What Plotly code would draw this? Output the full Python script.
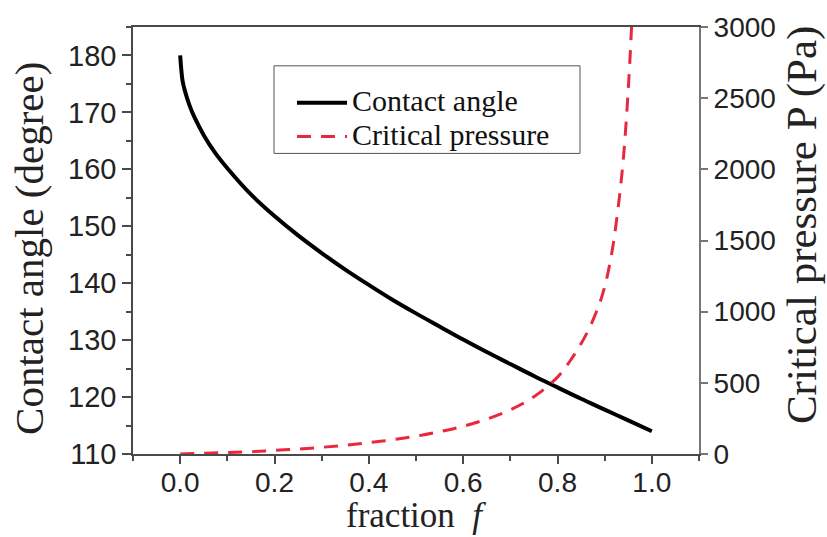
import plotly.graph_objects as go

# Contact angle vs fraction f
f_angle = [0, 0.005, 0.01, 0.02, 0.03, 0.05, 0.075, 0.1, 0.15, 0.2, 0.25, 0.3, 0.35,
           0.4, 0.45, 0.5, 0.55, 0.6, 0.65, 0.7, 0.75, 0.8, 0.85, 0.9, 0.95, 1.0]
angle = [180, 175.6, 173.8, 171.2, 169.2, 166.0, 162.8, 160.2, 155.6, 151.8, 148.4, 145.3, 142.4,
         139.7, 137.1, 134.7, 132.4, 130.1, 127.9, 125.8, 123.7, 121.7, 119.7, 117.8, 115.9, 114.0]

# Critical pressure vs fraction f
f_press = [0, 0.05, 0.1, 0.15, 0.2, 0.25, 0.3, 0.35, 0.4, 0.45, 0.5, 0.55, 0.6, 0.65,
           0.7, 0.75, 0.8, 0.83, 0.86, 0.885, 0.9, 0.915, 0.93, 0.94, 0.95, 0.957]
pressure = [0, 5, 10, 16, 26, 35, 47, 62, 80, 100, 125, 157, 195, 245,
            310, 402, 540, 670, 835, 1020, 1175, 1410, 1770, 2090, 2560, 3000]

series_names = ["Contact angle", "Critical pressure"]
x_ticks = [0.0, 0.2, 0.4, 0.6, 0.8, 1.0]
y_ticks = [110, 120, 130, 140, 150, 160, 170, 180]
y2_ticks = [0, 500, 1000, 1500, 2000, 2500, 3000]

SANS = "Liberation Sans, Arial, sans-serif"
SERIF = "Liberation Serif, Times New Roman, serif"
AX = "#4a4a4a"
RED = "#e8283c"
RED_DASH = "14px,10px"

# plot-area geometry in pixels (for the hand-drawn legend box and titles)
L, R, T, B = 133, 699, 25, 454
W, H = R - L, B - T
px = lambda x: (x - L) / W
py = lambda y: (B - y) / H

fig = go.Figure()
fig.add_trace(go.Scatter(x=f_angle, y=angle, mode="lines", name=series_names[0],
                         line=dict(color="black", width=4, shape="spline"), showlegend=False))
fig.add_trace(go.Scatter(x=f_press, y=pressure, mode="lines", name=series_names[1],
                         yaxis="y2", showlegend=False,
                         line=dict(color=RED, width=3, dash=RED_DASH, shape="spline")))

# legend (box, samples, labels)
shapes = [
    dict(type="rect", xref="paper", yref="paper", x0=px(274), x1=px(580), y0=py(152), y1=py(64),
         line=dict(color="#555", width=1), fillcolor="rgba(0,0,0,0)"),
    dict(type="line", xref="paper", yref="paper", x0=px(297), x1=px(347), y0=py(101), y1=py(101),
         line=dict(color="black", width=4)),
    dict(type="line", xref="paper", yref="paper", x0=px(297), x1=px(347), y0=py(135), y1=py(135),
         line=dict(color=RED, width=3, dash=RED_DASH)),
]
annotations = [
    dict(xref="paper", yref="paper", x=px(350), y=py(99), xanchor="left", yanchor="middle",
         text=series_names[0], showarrow=False, font=dict(family=SERIF, size=30, color="#111")),
    dict(xref="paper", yref="paper", x=px(350), y=py(133.5), xanchor="left", yanchor="middle",
         text=series_names[1], showarrow=False, font=dict(family=SERIF, size=30, color="#111")),
    # axis titles
    dict(xref="paper", yref="paper", x=px(29), y=py(248), xanchor="center", yanchor="middle",
         text="Contact angle (degree)", textangle=-90, showarrow=False,
         font=dict(family=SERIF, size=41, color="#222")),
    dict(xref="paper", yref="paper", x=px(802), y=py(224), xanchor="center", yanchor="middle",
         text="Critical pressure P (Pa)", textangle=-90, showarrow=False,
         font=dict(family=SERIF, size=43, color="#222")),
    dict(xref="paper", yref="paper", x=px(416), y=py(537), xanchor="center", yanchor="bottom",
         text="fraction  <i>f</i>", showarrow=False,
         font=dict(family=SERIF, size=35, color="#222")),
]

fig.update_layout(
    width=827, height=537,
    margin=dict(l=L, r=827 - R, t=T, b=537 - B),
    paper_bgcolor="white", plot_bgcolor="white",
    showlegend=False,
    shapes=shapes, annotations=annotations,
    xaxis=dict(range=[-0.1, 1.1], tickvals=x_ticks, tickformat=".1f",
               showgrid=False, zeroline=False,
               showline=True, linecolor=AX, linewidth=1.5, mirror=True,
               ticks="outside", ticklen=8, tickwidth=1.5, tickcolor=AX,
               ticklabelstandoff=-5,
               minor=dict(dtick=0.1, tick0=0, ticks="outside", ticklen=5, tickcolor=AX),
               tickfont=dict(family=SANS, size=28, color="#222")),
    yaxis=dict(range=[110, 185], tickvals=y_ticks,
               showgrid=False, zeroline=False,
               showline=True, linecolor=AX, linewidth=1.5,
               ticks="outside", ticklen=9, tickwidth=1.5, tickcolor=AX,
               minor=dict(dtick=5, tick0=110, ticks="outside", ticklen=5, tickcolor=AX),
               tickfont=dict(family=SANS, size=29, color="#222")),
    yaxis2=dict(range=[0, 3000], tickvals=y2_ticks, overlaying="y", side="right",
                showgrid=False, zeroline=False,
                showline=True, linecolor="#777", linewidth=2,
                ticks="outside", ticklen=7, tickwidth=1.5, tickcolor="#777",
                tickfont=dict(family=SANS, size=28, color="#222")),
)

fig.write_html("out.html")
